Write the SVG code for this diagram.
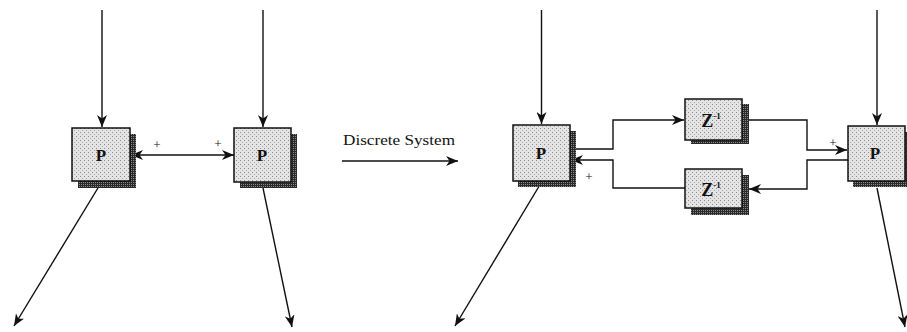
<svg xmlns="http://www.w3.org/2000/svg" width="907" height="332" viewBox="0 0 907 332">
  <style>
    .box { fill: url(#stipple); stroke: #111; stroke-width: 1.5; }
    .shadow { fill: url(#darkstipple); }
    .wire { fill: none; stroke: #111; stroke-width: 1.4; }
    .arrow { marker-end: url(#head); }
    .lbl { font-family: "Liberation Serif", "Times New Roman", serif; font-weight: bold; fill: #111; text-anchor: middle; }
    .plus { font-family: "Liberation Serif", serif; font-size: 13px; fill: #111; text-anchor: middle; }
    .caption { font-family: "Liberation Serif", "Times New Roman", serif; font-size: 15px; fill: #111; }
  </style>
  <defs>
    <pattern id="stipple" width="4" height="4" patternUnits="userSpaceOnUse">
      <rect width="4" height="4" fill="#e4e4e4"/>
      <rect x="0" y="0" width="1" height="1" fill="#8a8a8a"/>
      <rect x="2" y="2" width="1" height="1" fill="#a8a8a8"/>
    </pattern>
    <pattern id="darkstipple" width="2" height="2" patternUnits="userSpaceOnUse">
      <rect width="2" height="2" fill="#2a2a2a"/>
      <rect x="1" y="0" width="1" height="1" fill="#8a8a8a"/>
    </pattern>
    <marker id="head" viewBox="0 0 12 10" refX="12" refY="5" markerWidth="12" markerHeight="10" markerUnits="userSpaceOnUse" orient="auto-start-reverse">
      <path d="M0,0 L12,5 L0,10 L3.5,5 z" fill="#111"/>
    </marker>
  </defs>

  <!-- connectors -->
  <g id="connectors">
    <!-- left pair -->
    <line class="wire arrow" x1="102" y1="10" x2="102" y2="127"/>
    <line class="wire arrow" x1="263" y1="10" x2="263" y2="127"/>
    <line class="wire" x1="131" y1="155" x2="234" y2="155" marker-start="url(#head)" marker-end="url(#head)"/>
    <line class="wire arrow" x1="101" y1="183" x2="14" y2="326"/>
    <line class="wire arrow" x1="263" y1="188" x2="292" y2="327"/>
    <!-- transformation arrow -->
    <line class="wire arrow" x1="342" y1="161" x2="458" y2="161"/>
    <!-- discrete pair -->
    <line class="wire arrow" x1="541.5" y1="10" x2="541.5" y2="124"/>
    <line class="wire arrow" x1="877" y1="10" x2="877" y2="125"/>
    <path class="wire arrow" d="M570,149 H613 V120 H684"/>
    <path class="wire arrow" d="M685,188 H613 V160 H571"/>
    <path class="wire arrow" d="M742,120 H807 V150 H847"/>
    <path class="wire arrow" d="M848,160 H807 V189 H749"/>
    <line class="wire arrow" x1="541" y1="183" x2="455" y2="326"/>
    <line class="wire arrow" x1="877" y1="188" x2="905" y2="327"/>
  </g>

  <!-- left pair nodes -->
  <g id="p-left-a">
    <rect class="shadow" x="78" y="134" width="58" height="54"/>
    <rect class="box" x="72" y="128" width="58" height="53"/>
    <text class="lbl" x="101" y="161" font-size="17">P</text>
  </g>
  <g id="p-left-b">
    <rect class="shadow" x="240" y="134" width="57" height="54"/>
    <rect class="box" x="234" y="128" width="57" height="54"/>
    <text class="lbl" x="262" y="161" font-size="17">P</text>
  </g>

  <!-- caption -->
  <g id="caption">
    <text class="caption" x="343" y="145" textLength="112" lengthAdjust="spacingAndGlyphs">Discrete System</text>
  </g>

  <!-- discrete pair nodes -->
  <g id="p-right-a">
    <rect class="shadow" x="518" y="131" width="58" height="56"/>
    <rect class="box" x="513" y="125" width="57" height="56"/>
    <text class="lbl" x="541" y="159" font-size="17">P</text>
  </g>
  <g id="z-upper">
    <rect class="shadow" x="691" y="104" width="58" height="40"/>
    <rect class="box" x="685" y="99" width="57" height="41"/>
    <text class="lbl" x="711" y="127" font-size="18">Z<tspan font-size="9" dy="-8">-1</tspan></text>
  </g>
  <g id="z-lower">
    <rect class="shadow" x="691" y="175" width="58" height="40"/>
    <rect class="box" x="685" y="169" width="57" height="39"/>
    <text class="lbl" x="711" y="196" font-size="18">Z<tspan font-size="9" dy="-8">-1</tspan></text>
  </g>
  <g id="p-right-b">
    <rect class="shadow" x="853" y="132" width="58" height="55"/>
    <rect class="box" x="848" y="126" width="57" height="55"/>
    <text class="lbl" x="875" y="159" font-size="17">P</text>
  </g>

  <!-- signs -->
  <g id="signs">
    <text class="plus" x="157" y="149">+</text>
    <text class="plus" x="218" y="148">+</text>
    <text class="plus" x="589" y="181">+</text>
    <text class="plus" x="833" y="147">+</text>
  </g>
</svg>
